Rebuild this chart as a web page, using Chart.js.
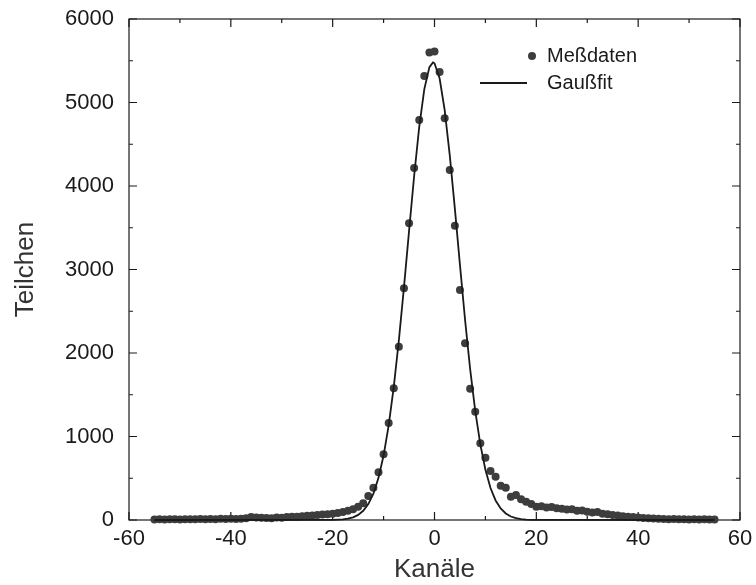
<!DOCTYPE html>
<html>
<head>
<meta charset="utf-8">
<script src="https://cdn.jsdelivr.net/npm/chart.js@4/dist/chart.umd.min.js"></script>
<style>
  html, body { margin: 0; padding: 0; background: #fff; }
  #wrap { width: 756px; height: 585px; }
</style>
</head>
<body>
<div id="wrap"><canvas id="myChart" width="756" height="585"></canvas></div>
<script>
// Messdaten: Kanal -> Teilchen
const channels = [
  -55, -54, -53, -52, -51, -50, -49, -48, -47, -46, -45, -44, -43, -42, -41, -40,
  -39, -38, -37, -36, -35, -34, -33, -32, -31, -30, -29, -28, -27, -26, -25, -24,
  -23, -22, -21, -20, -19, -18, -17, -16, -15, -14, -13, -12, -11, -10, -9, -8,
  -7, -6, -5, -4, -3, -2, -1, 0, 1, 2, 3, 4, 5, 6, 7, 8, 9, 10, 11, 12, 13, 14,
  15, 16, 17, 18, 19, 20, 21, 22, 23, 24, 25, 26, 27, 28, 29, 30, 31, 32, 33, 34,
  35, 36, 37, 38, 39, 40, 41, 42, 43, 44, 45, 46, 47, 48, 49, 50, 51, 52, 53, 54, 55
];
const counts = [
  5, 8, 6, 10, 8, 7, 10, 9, 8, 12, 10, 12, 9, 14, 12, 15,
  13, 16, 20, 35, 30, 28, 25, 22, 30, 28, 35, 40, 38, 45, 50, 55,
  60, 65, 70, 75, 85, 95, 110, 130, 160, 200, 287, 387, 571, 787, 1162, 1577,
  2075, 2775, 3553, 4216, 4790, 5317, 5600, 5610, 5365, 4812, 4192, 3525, 2754, 2116, 1572, 1297, 919, 746, 587, 519, 411, 387,
  279, 299, 248, 219, 192, 159, 165, 150, 155, 140, 135, 125, 130, 110, 115, 100, 90, 95, 75, 70,
  60, 55, 45, 40, 35, 30, 25, 20, 18, 15, 12, 10, 12, 8, 10, 7, 9, 6, 8, 5, 6
];

// Gaussfit
const fitX = [
  -55, -20, -19, -18, -17, -16, -15, -14, -13, -12, -11, -10, -9, -8, -7, -6, -5, -4, -3, -2, -1, -0.3,
  0, 1, 2, 3, 4, 5, 6, 7, 8, 9, 10, 11, 12, 13, 14, 15, 16, 17, 18, 19, 20, 55
];
const fitY = [
  0, 1, 4, 8, 16, 32, 61, 110, 190, 316, 505, 772, 1133, 1594, 2151, 2786, 3460, 4120, 4709, 5160, 5424, 5480,
  5470, 5290, 4908, 4367, 3730, 3055, 2398, 1806, 1306, 905, 602, 383, 234, 138, 78, 42, 22, 11, 5, 2, 1, 0
];

const legendLabels = ['Meßdaten', 'Gaußfit'];
const xTitle = 'Kanäle';
const yTitle = 'Teilchen';

const FONT = '"Liberation Sans", Arial, Helvetica, sans-serif';
const INK = '#1a1a1a';
const DOT = '#3d3d3d';

const frameAndTicks = {
  id: 'frameAndTicks',
  beforeDatasetsDraw(chart) {
    const {ctx, chartArea: a, scales: {x, y}} = chart;
    ctx.save();
    ctx.strokeStyle = INK;
    ctx.lineWidth = 1.2;
    ctx.strokeRect(a.left, a.top, a.right - a.left, a.bottom - a.top);
    ctx.beginPath();
    for (let v = x.min; v <= x.max; v += 10) {
      const px = x.getPixelForValue(v);
      const len = v % 20 === 0 ? 8 : 4;
      ctx.moveTo(px, a.bottom); ctx.lineTo(px, a.bottom - len);
      ctx.moveTo(px, a.top); ctx.lineTo(px, a.top + len);
    }
    for (let v = y.min; v <= y.max; v += 500) {
      const py = y.getPixelForValue(v);
      const len = v % 1000 === 0 ? 8 : 4;
      ctx.moveTo(a.left, py); ctx.lineTo(a.left + len, py);
      ctx.moveTo(a.right, py); ctx.lineTo(a.right - len, py);
    }
    ctx.stroke();
    ctx.restore();
  },
  afterDraw(chart) {
    const ctx = chart.ctx;
    ctx.save();
    ctx.font = '20px ' + FONT;
    ctx.fillStyle = INK;
    ctx.textBaseline = 'middle';
    // Messdaten
    ctx.beginPath();
    ctx.arc(532, 56, 4, 0, Math.PI * 2);
    ctx.fillStyle = DOT;
    ctx.fill();
    ctx.fillStyle = INK;
    ctx.fillText(legendLabels[0], 547, 56);
    // Gaussfit
    ctx.beginPath();
    ctx.moveTo(480, 83); ctx.lineTo(527, 83);
    ctx.strokeStyle = INK;
    ctx.lineWidth = 1.8;
    ctx.stroke();
    ctx.fillText(legendLabels[1], 547, 83);
    ctx.restore();
  }
};

const ctx = document.getElementById('myChart').getContext('2d');
new Chart(ctx, {
  type: 'scatter',
  data: {
    datasets: [
      {
        label: legendLabels[1],
        type: 'line',
        data: fitX.map((v, i) => ({x: v, y: fitY[i]})),
        borderColor: INK,
        borderWidth: 1.8,
        pointRadius: 0,
        tension: 0,
        fill: false,
        clip: false,
        order: 0
      },
      {
        label: legendLabels[0],
        data: channels.map((v, i) => ({x: v, y: counts[i]})),
        backgroundColor: DOT,
        borderColor: DOT,
        pointRadius: 4,
        borderWidth: 0,
        clip: false,
        order: 1
      }
    ]
  },
  options: {
    responsive: false,
    animation: false,
    devicePixelRatio: 1,
    layout: { padding: { top: 19, right: 16, left: 0, bottom: 0 } },
    plugins: { legend: { display: false }, tooltip: { enabled: false } },
    scales: {
      x: {
        type: 'linear',
        min: -60, max: 60,
        grid: { display: false, drawTicks: false },
        border: { display: false },
        ticks: { stepSize: 20, padding: 6, color: INK, font: { family: FONT, size: 22 }, callback: v => String(v) },
        title: { display: true, text: xTitle, color: '#333', padding: { top: 8, bottom: 0 }, font: { family: FONT, size: 26 } },
        afterFit(scale) { scale.height = 65; scale.paddingLeft = 0; scale.paddingRight = 0; }
      },
      y: {
        min: 0, max: 6000,
        grid: { display: false, drawTicks: false },
        border: { display: false },
        ticks: { stepSize: 1000, padding: 15, color: INK, font: { family: FONT, size: 22 }, callback: v => String(v) },
        title: { display: true, text: yTitle, color: '#333', padding: { top: 10, bottom: 0 }, font: { family: FONT, size: 26 } },
        afterFit(scale) { scale.width = 129; scale.paddingTop = 0; scale.paddingBottom = 0; }
      }
    }
  },
  plugins: [frameAndTicks]
});
</script>
</body>
</html>
